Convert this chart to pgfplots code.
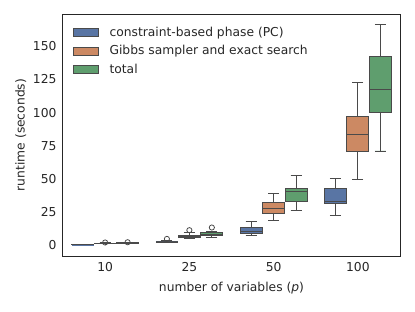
\documentclass[border=0pt]{standalone}
\usepackage{fontspec}
\setmainfont{DejaVu Sans}
\usepackage{pgfplots}
\pgfplotsset{compat=1.18}
\usepgfplotslibrary{statistics}
\definecolor{cb}{HTML}{5975A4}
\definecolor{co}{HTML}{CC8963}
\definecolor{cg}{HTML}{5F9E6E}
\definecolor{edge}{HTML}{4A4A4A}
\pgfplotsset{
  bx/.style={draw=edge, line width=0.9pt, mark=o, mark size=2.6pt, mark options={solid, draw=edge, line width=0.8pt}, forget plot},
}
\newcommand{\fs}{\fontsize{12.3}{14}\selectfont}
\begin{document}
\begin{tikzpicture}
\useasboundingbox (-63pt,-55pt) rectangle (352pt,256pt);
\begin{axis}[
  at={(0,0)}, anchor=south west, scale only axis, width=337pt, height=242pt,
  xmin=-0.5, xmax=3.5, ymin=-8.3, ymax=174.4,
  xtick={0,1,2,3}, xticklabels={10,25,50,100},
  ytick={0,25,50,75,100,125,150},
  major tick length=0pt,
  axis line style={draw=black!85, line width=1pt},
  tick label style={font=\fs, text=black!85},
  label style={font=\fs, text=black!85},
  xticklabel style={yshift=-3pt},
  yticklabel style={xshift=-3pt},
  xlabel={number of variables (\textit{p})},
  ylabel={runtime (seconds)},
  xlabel style={yshift=-3pt},
  ylabel style={yshift=0pt},
  /pgf/number format/assume math mode=true,
  boxplot/draw direction=y,
  boxplot/box extend=0.26,
  boxplot/whisker extend=0.13,
  legend style={at={(0.02,0.965)}, anchor=north west, draw=none, fill=none,
    font=\fs, text=black!85, row sep=4pt},
  legend cell align=left,
]
\addlegendimage{legend image code/.code={\draw[fill=cb,draw=edge,line width=0.8pt] (0pt,-4pt) rectangle (25pt,4pt); \path (34pt,0pt);}}
\addlegendentry{constraint-based phase (PC)}
\addlegendimage{legend image code/.code={\draw[fill=co,draw=edge,line width=0.8pt] (0pt,-4pt) rectangle (25pt,4pt); \path (34pt,0pt);}}
\addlegendentry{Gibbs sampler and exact search}
\addlegendimage{legend image code/.code={\draw[fill=cg,draw=edge,line width=0.8pt] (0pt,-4pt) rectangle (25pt,4pt); \path (34pt,0pt);}}
\addlegendentry{total}

% p = 10
\addplot[bx, fill=cb, boxplot prepared={draw position=-0.2667, lower whisker=0.15, lower quartile=0.25, median=0.3, upper quartile=0.35, upper whisker=0.45}] coordinates {};
\addplot[bx, fill=co, boxplot prepared={draw position=0, lower whisker=0.9, lower quartile=1.1, median=1.2, upper quartile=1.35, upper whisker=1.6}] coordinates {(0,1.9)};
\addplot[bx, fill=cg, boxplot prepared={draw position=0.2667, lower whisker=1.2, lower quartile=1.4, median=1.5, upper quartile=1.65, upper whisker=1.9}] coordinates {(0,2.1)};
% p = 25
\addplot[bx, fill=cb, boxplot prepared={draw position=0.7333, lower whisker=1.6, lower quartile=2.0, median=2.3, upper quartile=2.6, upper whisker=3.2}] coordinates {(0,4.6)};
\addplot[bx, fill=co, boxplot prepared={draw position=1, lower whisker=4.6, lower quartile=5.7, median=6.4, upper quartile=7.5, upper whisker=9.2}] coordinates {(0,11.2)};
\addplot[bx, fill=cg, boxplot prepared={draw position=1.2667, lower whisker=5.8, lower quartile=7.3, median=8.2, upper quartile=9.3, upper whisker=10.2}] coordinates {(0,13.2)};
% p = 50
\addplot[bx, fill=cb, boxplot prepared={draw position=1.7333, lower whisker=7.3, lower quartile=9.0, median=10.4, upper quartile=13.3, upper whisker=18.1}] coordinates {};
\addplot[bx, fill=co, boxplot prepared={draw position=2, lower whisker=18.8, lower quartile=23.8, median=27.6, upper quartile=32.1, upper whisker=39.1}] coordinates {};
\addplot[bx, fill=cg, boxplot prepared={draw position=2.2667, lower whisker=25.8, lower quartile=32.9, median=40.1, upper quartile=42.9, upper whisker=52.2}] coordinates {};
% p = 100
\addplot[bx, fill=cb, boxplot prepared={draw position=2.7333, lower whisker=22.0, lower quartile=31.6, median=33.1, upper quartile=42.6, upper whisker=50.4}] coordinates {};
\addplot[bx, fill=co, boxplot prepared={draw position=3, lower whisker=49.4, lower quartile=71.0, median=83.5, upper quartile=96.8, upper whisker=122.6}] coordinates {};
\addplot[bx, fill=cg, boxplot prepared={draw position=3.2667, lower whisker=71.0, lower quartile=99.8, median=117.1, upper quartile=142.5, upper whisker=166.3}] coordinates {};
\end{axis}
\end{tikzpicture}
\end{document}
